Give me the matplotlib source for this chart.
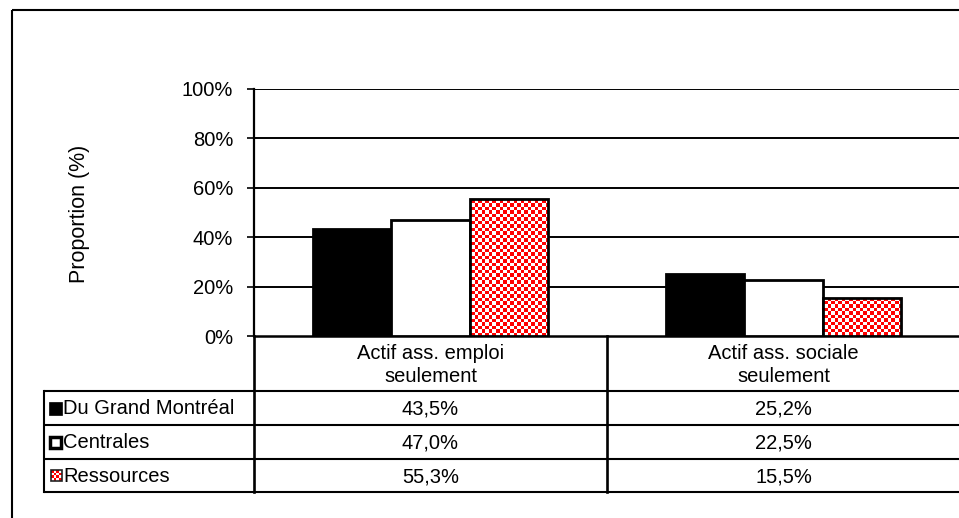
import numpy as np
import matplotlib as mpl
mpl.use('Agg')
from matplotlib import pyplot as plt
from matplotlib.patches import Rectangle
from matplotlib.colors import ListedColormap
from matplotlib.transforms import blended_transform_factory

categories = ["Actif ass. emploi\nseulement", "Actif ass. sociale\nseulement"]
series = ["Du Grand Montréal", "Centrales", "Ressources"]
grand_montreal = [43.5, 25.2]
centrales = [47.0, 22.5]
ressources = [55.3, 15.5]
yticks = [0, 20, 40, 60, 80, 100]

W, H = 959, 518
plt.rcParams['font.family'] = ['Liberation Sans', 'DejaVu Sans']
FS = 14.5

fig = plt.figure(figsize=(W / 100, H / 100), dpi=100)

# overlay in pixel coords for the frame and the data table
over = fig.add_axes([0, 0, 1, 1])
over.set_xlim(0, W)
over.set_ylim(H, 0)
over.axis('off')

# chart area: y axis at x=254, 0% at y=336, 100% at y=89
ax = fig.add_axes([254 / W, 1 - 336 / H, 706 / W, 247 / H])
ax.set_facecolor('none')

x = np.arange(len(categories)) + 0.5
w = 0.221

b1 = ax.bar(x - w, grand_montreal, w, color='black', edgecolor='black', linewidth=2, zorder=3)
b2 = ax.bar(x, centrales, w, color='white', edgecolor='black', linewidth=2, zorder=3)
b3 = ax.bar(x + w, ressources, w, color='none', edgecolor='black', linewidth=2, zorder=4)

# red/white checkerboard fill for Ressources
nc, nr = 202, 71
checker = (np.add.outer(np.arange(nr), np.arange(nc)) % 2)
cmap = ListedColormap(['#ff0000', 'white'])
for rect in b3:
    im = ax.imshow(checker, cmap=cmap, extent=[0, 2, 0, 100], aspect='auto',
                   interpolation='nearest', zorder=3)
    im.set_clip_path(rect)

ax.set_xlim(0, 2)
ax.set_ylim(0, 100)
ax.set_yticks(yticks)
ax.set_yticklabels([f"{t}%" for t in yticks], fontsize=FS)
ax.tick_params(axis='y', length=5, width=1.2, pad=10)
ax.set_xticks([])
for t in yticks[1:]:
    ax.axhline(t, color='black', linewidth=1.4, zorder=1)
for s in ['top', 'right']:
    ax.spines[s].set_visible(False)
ax.spines['left'].set_linewidth(1.6)
ax.spines['bottom'].set_linewidth(1.8)

fig.text(80 / W, 1 - 214 / H, "Proportion (%)", rotation=90, ha='center', va='center', fontsize=FS + 1)

# outer frame (left and top edges visible)
over.add_patch(Rectangle((12, 10), 1000, 600, fill=False, edgecolor='black', linewidth=1.5))

# data table
lw = 1.5
for y in [391, 425, 459, 492]:
    over.plot([44, W + 2], [y, y], color='black', linewidth=lw, solid_capstyle='butt')
over.plot([44, 44], [391, 492], color='black', linewidth=lw)
over.plot([254, 254], [336, 492], color='black', linewidth=1.9)
over.plot([607, 607], [336, 492], color='black', linewidth=1.9)

bt = blended_transform_factory(ax.transData, over.transData)
for xi, cat in zip(x, categories):
    over.text(xi, 365, cat, transform=bt, ha='center', va='center', fontsize=FS, linespacing=1.3)

rows_y = [408, 442, 476]
for yy, name, vals in zip(rows_y, series, [grand_montreal, centrales, ressources]):
    over.text(63, yy + 1, name, ha='left', va='center', fontsize=FS)
    for xi, v in zip(x, vals):
        over.text(xi, yy + 1, f"{v:.1f}%".replace('.', ','), transform=bt,
                  ha='center', va='center', fontsize=FS)

# legend keys
over.add_patch(Rectangle((49, 402), 13, 13, facecolor='black', edgecolor='black', linewidth=0.5))
over.add_patch(Rectangle((50, 437), 11, 11, facecolor='white', edgecolor='black', linewidth=2.5))
kx, ky, ks = 51, 470, 11
key = over.add_patch(Rectangle((kx, ky), ks, ks, facecolor='none', edgecolor='#222222', linewidth=1.2, zorder=3))
small = (np.add.outer(np.arange(4), np.arange(4)) % 2)
kim = over.imshow(small, cmap=cmap, extent=[kx, kx + ks, ky + ks, ky], aspect='auto',
                  interpolation='nearest', zorder=2)
over.set_xlim(0, W)
over.set_ylim(H, 0)

fig.savefig('out.png', dpi=100)
